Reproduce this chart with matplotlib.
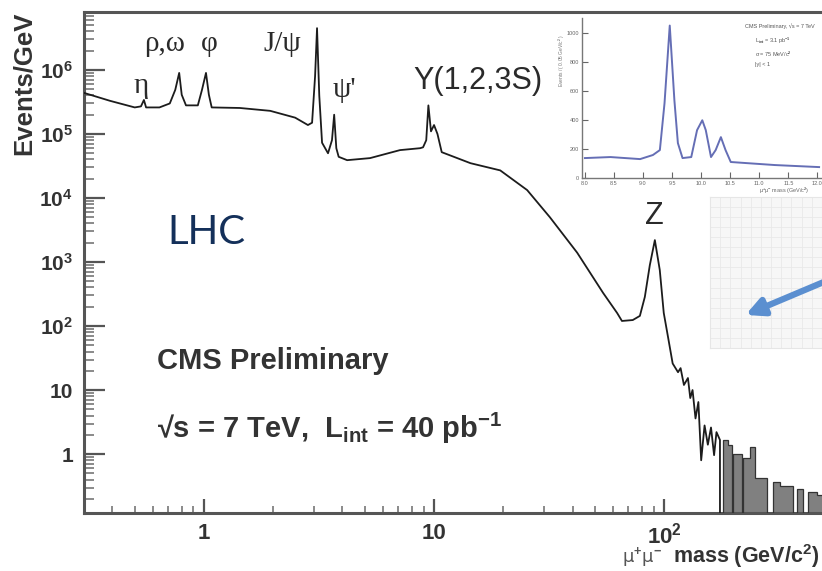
import matplotlib
matplotlib.use("Agg")
import matplotlib.pyplot as plt
import matplotlib.patheffects as pe
from matplotlib.patches import Rectangle, FancyArrowPatch
from matplotlib.ticker import LogLocator, NullFormatter, FixedLocator, FixedFormatter

plt.rcParams["font.family"] = ["Liberation Sans", "DejaVu Sans"]
plt.rcParams["mathtext.fontset"] = "custom"
plt.rcParams["mathtext.rm"] = "Liberation Sans:bold"
plt.rcParams["mathtext.it"] = "Liberation Sans:bold"
plt.rcParams["mathtext.bf"] = "Liberation Sans:bold"

# ---- dimuon spectrum (GeV, events/GeV) ----
mass = [0.30, 0.39, 0.50, 0.532, 0.548, 0.56, 0.64, 0.71, 0.75, 0.78, 0.80, 0.835,
        0.94, 0.98, 1.02, 1.05, 1.08, 1.43, 1.94, 2.49, 2.83, 2.95, 3.04, 3.10, 3.17,
        3.26, 3.46, 3.60, 3.68, 3.76, 3.85, 4.19, 5.27, 7.11, 8.7, 8.96, 9.25, 9.45,
        9.7, 10.0, 10.35, 10.8, 14.4, 19.4, 25.4, 31.9, 41.9, 54.3, 62.5, 65.6, 73.1,
        78.5, 82.5, 86.7, 91.2, 95.8, 99.7, 104, 109, 115, 118, 122, 127, 130, 133,
        137, 141, 145, 150, 155, 160, 165, 169, 175, 175.5]
events = [4.4e5, 3.3e5, 2.6e5, 2.7e5, 3.4e5, 2.6e5, 2.6e5, 3.0e5, 4.9e5, 9.0e5, 4.1e5, 2.8e5,
          2.8e5, 4.9e5, 9.0e5, 4.1e5, 2.6e5, 2.55e5, 2.3e5, 1.8e5, 1.38e5, 1.5e5, 8e5, 4.5e6, 4e5,
          7.3e4, 5.0e4, 8e4, 2.0e5, 6e4, 4.4e4, 3.9e4, 4.2e4, 5.6e4, 6.0e4, 6.2e4, 8e4, 2.8e5,
          1.1e5, 1.38e5, 1.0e5, 5.2e4, 3.5e4, 2.7e4, 1.33e4, 5.0e3, 1.4e3, 330, 160, 120, 124,
          144, 285, 890, 2200, 750, 160, 68, 26, 19, 22, 12, 15.4, 7.5, 10,
          3.6, 6.5, 0.8, 2.8, 1.4, 2.6, 0.96, 2.2, 1.66, 0]

# high-mass tail, histogram bins
tail_edges = [175.5, 181, 190, 197, 199, 218, 221, 237, 249, 281, 298, 319, 364,
              379, 402, 423, 463, 520]
tail_events = [0, 1.66, 1.4, 0, 1.0, 0, 0.87, 1.3, 0.42, 0, 0.36, 0.32, 0,
               0.28, 0, 0.26, 0.23]

# inset: Upsilon region, linear scale
ups_mass = [8.0, 8.44, 8.95, 9.17, 9.29, 9.37, 9.46, 9.54, 9.6, 9.68, 9.83, 9.93, 10.02,
            10.08, 10.17, 10.25, 10.34, 10.42, 10.51, 10.76, 11.27, 12.03]
ups_events = [137, 144, 130, 158, 192, 514, 1048, 534, 240, 137, 144, 329, 397,
              329, 144, 192, 281, 192, 110, 103, 89, 75]

ytick_vals = [1, 10, 1e2, 1e3, 1e4, 1e5, 1e6]
ytick_labels = ["1", "10", "$10^{2}$", "$10^{3}$", "$10^{4}$", "$10^{5}$", "$10^{6}$"]
xtick_vals = [1, 10, 100]
xtick_labels = ["1", "10", "$10^{2}$"]

# resonance labels: text, mass position, height (events/GeV)
peaks = [("η", 0.532, 5.6e5), ("ρ,ω", 0.677, 2.55e6), ("φ", 1.057, 2.55e6),
         ("J/ψ", 2.18, 2.55e6), ("ψ'", 4.06, 4.9e5)]
sans_peaks = [("Υ(1,2,3S)", 15.5, 6.7e5), ("Z", 91.2, 5.2e3)]

W, H = 822, 571
fig = plt.figure(figsize=(W / 100, H / 100), dpi=100)
ax = fig.add_axes([84 / W, 1 - 513 / H, (W - 84) / W, (513 - 12) / H])

grey = "#333333"
ax.plot(mass, events, color="#1c1c1c", lw=1.3, zorder=3)
ax.stairs(tail_events, tail_edges, baseline=1e-3, fill=True, color="#808080", zorder=2)
ax.stairs(tail_events, tail_edges, baseline=1e-3, color="#333333", lw=0.9, zorder=3)

ax.set_xscale("log")
ax.set_yscale("log")
ax.set_xlim(0.3008, 486)
ax.set_ylim(0.12, 8.05e6)

for side in ["left", "bottom", "top"]:
    ax.spines[side].set_color("#555555")
    ax.spines[side].set_linewidth(2.2)
ax.spines["right"].set_visible(False)

ax.yaxis.set_major_locator(FixedLocator(ytick_vals))
ax.yaxis.set_major_formatter(FixedFormatter(ytick_labels))
ax.yaxis.set_minor_locator(LogLocator(base=10, subs=range(2, 10), numticks=20))
ax.yaxis.set_minor_formatter(NullFormatter())
ax.xaxis.set_major_locator(FixedLocator(xtick_vals))
ax.xaxis.set_major_formatter(FixedFormatter(xtick_labels))
ax.xaxis.set_minor_locator(LogLocator(base=10, subs=range(2, 10), numticks=20))
ax.xaxis.set_minor_formatter(NullFormatter())

ax.tick_params(axis="y", which="major", direction="in", length=15, width=1.6,
               color="#555555", labelsize=15, labelcolor=grey, pad=8)
ax.tick_params(axis="y", which="minor", direction="in", length=7, width=1.2, color="#777777")
ax.tick_params(axis="x", which="major", direction="in", length=10, width=1.6,
               color="#555555", labelsize=16, labelcolor=grey, pad=7)
ax.tick_params(axis="x", which="minor", direction="in", length=5, width=1.2, color="#777777")
for lab in ax.get_yticklabels() + ax.get_xticklabels():
    lab.set_fontweight("bold")

for name, xm, yv in peaks:
    ax.text(xm, yv, name, ha="center", va="center", fontsize=21, color="#2a2a2a",
            family=["Liberation Serif", "DejaVu Serif"])
for name, xm, yv in sans_peaks:
    ax.text(xm, yv, name, ha="center", va="center", fontsize=22, color="#2a2a2a")

ax.text(0.0985, 1 - (361 - 12) / (513 - 12), "CMS Preliminary",
        transform=ax.transAxes, ha="left", va="center", fontsize=21,
        fontweight="bold", color="#333333")
ax.text(0.0985, 1 - (428 - 12) / (513 - 12),
        "√s = 7 TeV,  L$_{int}$ = 40 pb$^{-1}$",
        transform=ax.transAxes, ha="left", va="center", fontsize=21,
        fontweight="bold", color="#333333")
ax.text(0.113, 1 - (233 - 12) / (513 - 12), "LHC", transform=ax.transAxes,
        ha="left", va="center", fontsize=29, color="#14305a",
        family=["Lato", "DejaVu Sans"])

fig.text(24 / W, 1 - 12 / H, "Events/GeV", rotation=90, ha="center", va="top",
         fontsize=18.5, fontweight="bold", color="#333333")
fig.text(0.997, 1 - 556 / H, "mass (GeV/c$^{2}$)", ha="right",
         va="center", fontsize=15.5, fontweight="bold", color="#333333")
fig.text(662 / W, 1 - 557 / H, "μ$^{+}$μ$^{-}$", ha="right", va="center",
         fontsize=13, color="#555555", family=["DejaVu Sans"])

# white card holding the inset screenshot
fig.patches.append(Rectangle((553 / W, 1 - 197 / H), (W - 553) / W, (197 - 15) / H,
                             transform=fig.transFigure, facecolor="white",
                             edgecolor="none", zorder=1))

axi = fig.add_axes([582 / W, 1 - 178 / H, (W - 582) / W, (178 - 18) / H], zorder=3)
axi.plot(ups_mass, ups_events, color="#4a55a8", lw=1.4, alpha=0.85)
axi.set_xlim(7.95, 12.08)
axi.set_ylim(0, 1100)
axi.set_xticks([8, 8.5, 9, 9.5, 10, 10.5, 11, 11.5, 12])
axi.set_yticks([0, 200, 400, 600, 800, 1000])
axi.tick_params(direction="in", length=4, width=0.8, labelsize=4, colors="#666666", pad=2)
for side in ["left", "bottom"]:
    axi.spines[side].set_color("#777777")
    axi.spines[side].set_linewidth(1.0)
axi.spines["top"].set_visible(False)
axi.spines["right"].set_visible(False)
axi.set_facecolor("white")
axi.text(0.97, 0.97, "CMS Preliminary, √s = 7 TeV", transform=axi.transAxes,
         ha="right", va="top", fontsize=4, color="#555555")
axi.text(0.72, 0.89, "L$_{int}$ = 3.1 pb$^{-1}$\nσ = 75 MeV/c$^{2}$\n|y| < 1",
         transform=axi.transAxes, ha="left", va="top", fontsize=4, color="#555555",
         linespacing=1.6)
fig.text(562 / W, 1 - 60 / H, "Events / ( 0.05 GeV/c$^{2}$ )", rotation=90, ha="center",
         va="center", fontsize=3.5, color="#777777", zorder=4)
fig.text(0.985, 1 - 191 / H, "μ$^{+}$μ$^{-}$ mass (GeV/c$^{2}$)", ha="right", va="center",
         fontsize=4, color="#666666", zorder=4)

# faint grid panel below the inset
axg = fig.add_axes([710 / W, 1 - 348 / H, (W - 710) / W, (348 - 197) / H], zorder=2)
axg.set_facecolor("#f7f7f7")
axg.set_xlim(0, 11)
axg.set_ylim(0, 15)
axg.set_xticks(range(12))
axg.set_yticks(range(16))
axg.grid(True, color="#e9e9e9", lw=0.6)
axg.tick_params(length=0, labelbottom=False, labelleft=False)
for s in axg.spines.values():
    s.set_color("#e6e6e6")
    s.set_linewidth(0.8)

# blue arrow pointing into the panel
arrow = FancyArrowPatch((1.005, 1 - 281 / H), (743 / W, 1 - 316 / H),
                        transform=fig.transFigure, arrowstyle="-|>",
                        mutation_scale=26, lw=4.5, color="#5b8fd0", zorder=5,
                        path_effects=[pe.withSimplePatchShadow(offset=(2, -2),
                                                               alpha=0.35)])
fig.patches.append(arrow)

fig.savefig("out.png", dpi=100)
